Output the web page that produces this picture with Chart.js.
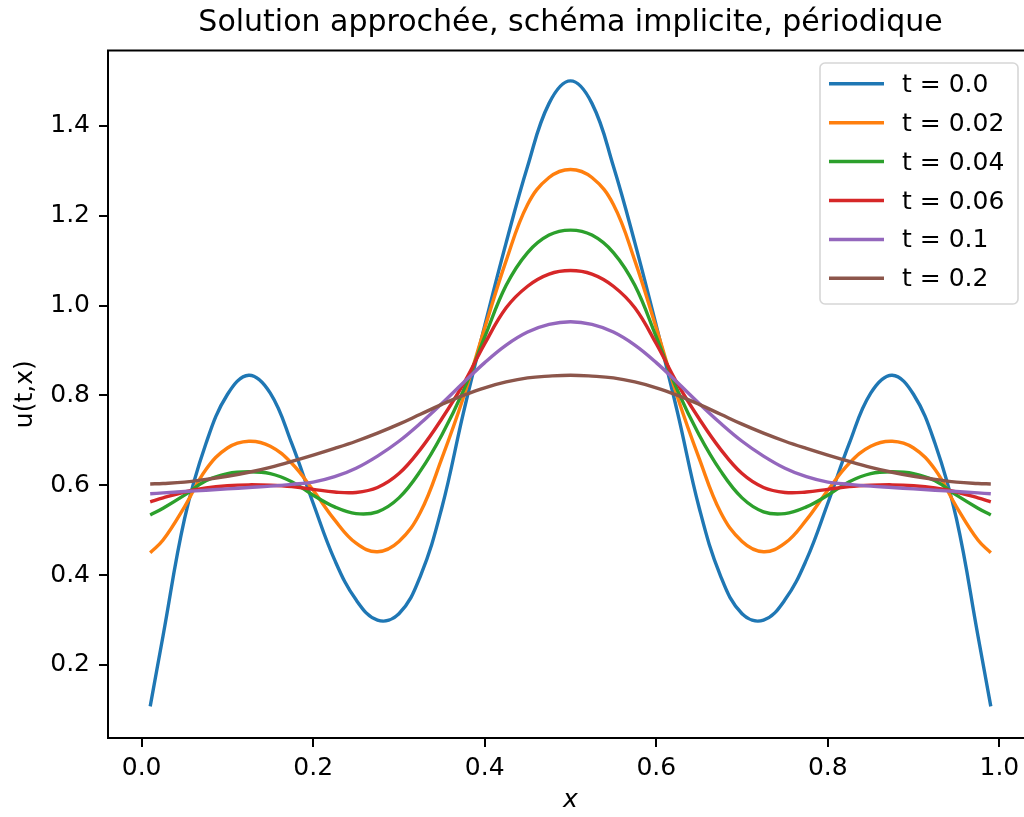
<!DOCTYPE html>
<html>
<head>
<meta charset="utf-8">
<script src="https://cdn.jsdelivr.net/npm/chart.js@4.4.0/dist/chart.umd.min.js"></script>
<style>
  html, body { margin: 0; padding: 0; background: #fff; overflow: hidden; }
  #wrap { width: 1060px; height: 817px; }
</style>
</head>
<body>
<div id="wrap"><canvas id="chart" width="1060" height="817"></canvas></div>
<script>
// points en x (maillage)
const xs = [0.01, 0.025, 0.05, 0.075, 0.1, 0.125, 0.15, 0.175, 0.2, 0.225, 0.25, 0.275, 0.3, 0.325, 0.35, 0.375, 0.4, 0.425, 0.45, 0.475, 0.5,
            0.525, 0.55, 0.575, 0.6, 0.625, 0.65, 0.675, 0.7, 0.725, 0.75, 0.775, 0.8, 0.825, 0.85, 0.875, 0.9, 0.925, 0.95, 0.975, 0.99];

// u(t,x) pour chaque instant
const u_t0 = [0.108, 0.265, 0.525, 0.693, 0.802, 0.845, 0.805, 0.693, 0.56, 0.434, 0.345, 0.3, 0.314, 0.398, 0.55, 0.76, 0.955, 1.14, 1.31, 1.45, 1.5,
              1.45, 1.31, 1.14, 0.955, 0.76, 0.55, 0.398, 0.314, 0.3, 0.345, 0.434, 0.56, 0.693, 0.805, 0.845, 0.802, 0.693, 0.525, 0.265, 0.108];
const u_t002 = [0.45, 0.478, 0.552, 0.635, 0.683, 0.698, 0.687, 0.649, 0.589, 0.523, 0.471, 0.452, 0.475, 0.54, 0.66, 0.795, 0.95, 1.1, 1.225, 1.285, 1.303,
                1.285, 1.225, 1.1, 0.95, 0.795, 0.66, 0.54, 0.475, 0.452, 0.471, 0.523, 0.589, 0.649, 0.687, 0.698, 0.683, 0.635, 0.552, 0.478, 0.45];
const u_t004 = [0.534, 0.549, 0.578, 0.61, 0.626, 0.63, 0.626, 0.608, 0.578, 0.552, 0.537, 0.541, 0.572, 0.632, 0.712, 0.81, 0.93, 1.045, 1.118, 1.157, 1.168,
                1.157, 1.118, 1.045, 0.93, 0.81, 0.712, 0.632, 0.572, 0.541, 0.537, 0.552, 0.578, 0.608, 0.626, 0.63, 0.626, 0.61, 0.578, 0.549, 0.534];
const u_t006 = [0.563, 0.572, 0.585, 0.594, 0.599, 0.601, 0.6, 0.597, 0.591, 0.585, 0.584, 0.595, 0.626, 0.68, 0.748, 0.825, 0.915, 0.995, 1.043, 1.07, 1.078,
                1.07, 1.043, 0.995, 0.915, 0.825, 0.748, 0.68, 0.626, 0.595, 0.584, 0.585, 0.591, 0.597, 0.6, 0.601, 0.599, 0.594, 0.585, 0.572, 0.563];
const u_t01 = [0.581, 0.583, 0.586, 0.589, 0.592, 0.595, 0.598, 0.602, 0.607, 0.619, 0.638, 0.665, 0.698, 0.738, 0.782, 0.828, 0.873, 0.912, 0.941, 0.958, 0.964,
               0.958, 0.941, 0.912, 0.873, 0.828, 0.782, 0.738, 0.698, 0.665, 0.638, 0.619, 0.607, 0.602, 0.598, 0.595, 0.592, 0.589, 0.586, 0.583, 0.581];
const u_t02 = [0.603, 0.604, 0.607, 0.613, 0.62, 0.629, 0.64, 0.653, 0.667, 0.682, 0.698, 0.716, 0.736, 0.758, 0.78, 0.8, 0.817, 0.83, 0.839, 0.843, 0.845,
               0.843, 0.839, 0.83, 0.817, 0.8, 0.78, 0.758, 0.736, 0.716, 0.698, 0.682, 0.667, 0.653, 0.64, 0.629, 0.62, 0.613, 0.607, 0.604, 0.603];

const seriesLabels = ['t = 0.0', 't = 0.02', 't = 0.04', 't = 0.06', 't = 0.1', 't = 0.2'];
const seriesValues = [u_t0, u_t002, u_t004, u_t006, u_t01, u_t02];
const seriesColors = ['#1f77b4', '#ff7f0e', '#2ca02c', '#d62728', '#9467bd', '#8c564b'];

const xTicks = [0.0, 0.2, 0.4, 0.6, 0.8, 1.0];
const yTicks = [0.2, 0.4, 0.6, 0.8, 1.0, 1.2, 1.4];

const FONT = 'DejaVu Sans';

// cadre complet + légende dans le coin haut droit
const frameLegend = {
  id: 'frameLegend',
  afterDatasetsDraw(chart) {
    const { ctx, chartArea: a } = chart;
    ctx.save();
    ctx.strokeStyle = '#000';
    ctx.lineWidth = 2;
    ctx.strokeRect(a.left, a.top, a.right - a.left, a.bottom - a.top);

    const boxR = a.right - 15, boxT = a.top + 12.5;
    const boxL = boxR - 198, boxH = 241;
    ctx.beginPath();
    if (ctx.roundRect) ctx.roundRect(boxL, boxT, boxR - boxL, boxH, 5);
    else ctx.rect(boxL, boxT, boxR - boxL, boxH);
    ctx.fillStyle = 'rgba(255,255,255,0.8)';
    ctx.fill();
    ctx.strokeStyle = 'rgba(204,204,204,0.8)';
    ctx.lineWidth = 1.6;
    ctx.stroke();

    ctx.font = `25px "${FONT}"`;
    ctx.textBaseline = 'middle';
    ctx.textAlign = 'left';
    chart.data.datasets.forEach((ds, i) => {
      const y = boxT + 20.8 + i * 38.9;
      ctx.strokeStyle = ds.borderColor;
      ctx.lineWidth = 3.5;
      ctx.beginPath();
      ctx.moveTo(boxL + 9, y);
      ctx.lineTo(boxL + 64, y);
      ctx.stroke();
      ctx.fillStyle = '#000';
      ctx.fillText(ds.label, boxL + 82, y + 1.5);
    });
    ctx.restore();
  }
};

const datasets = seriesValues.map((vals, i) => ({
  label: seriesLabels[i],
  data: xs.map((x, k) => ({ x: x, y: vals[k] })),
  borderColor: seriesColors[i],
  backgroundColor: seriesColors[i],
  borderWidth: 3.4,
  pointRadius: 0,
  tension: 0.4,
  fill: false,
  order: seriesValues.length - i
}));

new Chart(document.getElementById('chart'), {
  type: 'line',
  data: { datasets },
  options: {
    responsive: false,
    animation: false,
    layout: { padding: { top: 0, right: 27, left: 0, bottom: 0 } },
    plugins: {
      legend: { display: false },
      tooltip: { enabled: false },
      title: {
        display: true,
        fullSize: false,
        text: 'Solution approchée, schéma implicite, périodique',
        color: '#000',
        font: { family: FONT, size: 30, weight: 'normal' },
        padding: { top: 5, bottom: 9.5 }
      }
    },
    scales: {
      x: {
        type: 'linear',
        min: -0.0392,
        max: 1.0392,
        afterFit: (s) => { s.height = 79; },
        afterBuildTicks: (s) => { s.ticks = xTicks.map(v => ({ value: v })); },
        border: { display: false },
        grid: { display: true, drawOnChartArea: false, drawTicks: true, tickLength: 9, color: '#000', lineWidth: 2 },
        ticks: {
          autoSkip: false, maxRotation: 0, padding: 6, color: '#000',
          font: { family: FONT, size: 25 },
          callback: (v) => Number(v).toFixed(1)
        },
        title: {
          display: true, text: 'x', color: '#000',
          font: { family: FONT, size: 25, style: 'italic' },
          padding: { top: 0, bottom: 2 }
        }
      },
      y: {
        type: 'linear',
        min: 0.0375,
        max: 1.5677,
        afterFit: (s) => { s.width = 108; },
        afterBuildTicks: (s) => { s.ticks = yTicks.map(v => ({ value: v })); },
        border: { display: false },
        grid: { display: true, drawOnChartArea: false, drawTicks: true, tickLength: 9, color: '#000', lineWidth: 2 },
        ticks: {
          padding: 9, color: '#000',
          font: { family: FONT, size: 25 },
          callback: (v) => Number(v).toFixed(1)
        },
        title: {
          display: true, text: 'u(t,x)', color: '#000',
          font: { family: FONT, size: 25 },
          padding: { top: 10, bottom: 0 }
        }
      }
    }
  },
  plugins: [frameLegend]
});
</script>
</body>
</html>
